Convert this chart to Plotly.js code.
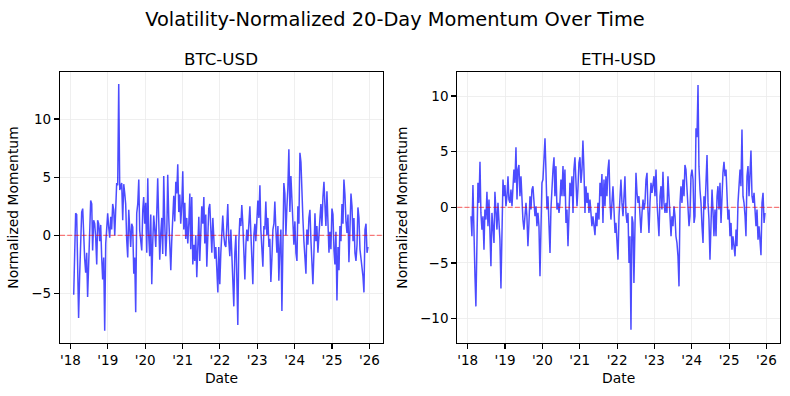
<!DOCTYPE html>
<html>
<head>
<meta charset="utf-8">
<script src="https://cdn.plot.ly/plotly-3.0.1.min.js"></script>
<style>html,body{margin:0;padding:0;background:#fff;}#chart{width:790px;height:396px;}</style>
</head>
<body>
<div id="chart"></div>
<script>
// Sampling of the series (one reading per ~9.8 days)
const startDate = '2018-02-02';
const stepDays = 9.785;

const btcMomentum = [
-5.1,-1.0,1.9,1.8,-2.7,-7.1,-3.5,0.8,2.0,2.3,-0.5,-2.0,-3.2,-1.5,-5.3,-2.0,0.8,3.0,2.7,-1.3,
1.3,1.0,-0.2,-2.5,1.3,1.0,-0.5,0.9,-1.8,-3.8,-1.9,-8.2,-0.7,1.0,1.9,0.7,-0.2,1.6,0.5,2.7,
2.2,0.0,1.6,4.5,4.3,13.0,3.9,4.2,4.5,1.3,4.4,3.6,2.7,-0.4,-1.9,2.2,0.7,-1.0,1.0,0.7,
-3.3,-1.9,-6.6,1.9,2.7,4.8,0.4,-0.7,-1.3,2.2,3.3,1.0,
2.8,-1.5,4.9,0.0,-1.8,1.8,-4.2,-0.5,1.7,0.5,-1.0,2.0,4.9,1.3,-2.1,0.2,1.5,-1.6,5.1,1.0,
-1.8,0.3,5.2,1.5,-1.2,-3.0,-0.5,2.0,3.4,1.2,4.6,3.6,6.1,2.0,3.5,1.0,2.5,5.5,0.5,2.8,
-0.3,1.5,-0.7,1.0,3.6,-1.2,3.3,-2.5,-0.8,-2.2,0.0,-3.6,-0.8,1.6,-2.2,0.5,2.5,1.0,3.3,-0.7,
1.8,-2.7,0.5,2.3,2.7,0.0,-1.5,1.5,-0.5,-2.0,-1.0,-3.5,-4.9,-1.0,-4.2,-1.5,0.3,1.7,0.0,-0.8,
-1.0,1.5,2.7,-0.5,-1.8,0.5,-2.5,-4.8,-6.1,-1.5,0.0,-3.5,-7.7,-0.5,1.5,0.8,2.6,1.0,-1.5,-3.8,
-0.8,0.5,-0.5,1.0,2.5,0.3,-1.5,-4.2,0.0,1.0,-0.5,1.2,3.0,1.5,4.3,0.5,-1.5,-2.7,0.8,0.5,
2.9,0.0,1.5,-1.0,-0.3,-4.0,-2.0,0.5,1.0,2.9,0.5,-1.5,0.8,-3.9,-1.0,0.5,-6.5,2.0,4.5,3.6,
0.0,2.5,4.0,7.4,2.0,5.1,2.8,0.5,-0.8,1.2,-1.5,-2.2,2.5,1.0,7.1,6.3,3.4,1.5,
-0.5,-2.5,-3.3,0.5,-0.8,1.5,2.2,-0.5,-2.0,-4.2,-1.5,1.9,-0.5,0.8,-1.5,0.5,1.5,2.7,0.8,3.3,
4.6,2.5,0.8,3.8,-0.3,-1.5,0.3,-1.2,2.3,1.8,-1.3,-2.5,0.3,-5.6,-1.0,-3.0,0.8,-0.5,2.7,1.0,
4.8,3.5,1.2,0.2,1.8,-2.3,0.5,3.6,2.5,-0.5,1.5,-1.5,-2.2,-0.8,2.4,1.5,-1.2,-2.0,-2.8,-3.5,
-4.9,0.5,1.0,-1.5,-1.0
];

const ethMomentum = [
-0.8,-2.6,2.0,-3.5,-6.2,-8.9,-2.0,2.2,0.4,4.1,-0.5,-2.0,-0.8,-3.8,-0.2,-1.1,1.4,-1.7,0.7,-2.6,
-5.3,-0.5,-2.0,-3.2,1.4,-0.2,-2.0,0.4,-1.7,-2.9,-7.3,-1.4,2.5,1.0,2.0,0.1,1.0,2.8,0.7,0.4,
1.6,0.1,2.2,3.4,2.2,5.4,0.7,3.4,3.8,1.0,2.8,0.1,-1.1,-2.0,-0.2,0.4,-0.8,-3.5,-1.4,1.0,
-0.2,1.6,1.9,0.4,-0.8,0.1,-1.7,-0.5,-1.7,-6.2,-2.0,2.2,
2.5,4.9,6.2,3.4,-0.2,1.0,-2.0,-4.1,-0.2,2.2,3.4,4.5,1.0,3.7,-0.2,0.4,-0.5,0.4,2.5,1.0,
3.7,1.0,3.4,-1.4,-0.2,-3.5,-1.4,2.2,1.0,2.8,-0.5,3.4,4.5,2.2,0.1,1.6,4.0,4.5,2.2,3.4,
6.0,3.4,-0.5,1.9,0.4,1.3,-0.5,0.7,-0.5,-1.7,-0.8,-2.0,-2.5,-0.5,-1.7,0.4,-1.1,2.2,1.0,3.0,
-1.4,2.5,0.1,2.8,1.0,3.4,4.3,0.4,-1.1,0.4,1.9,-0.2,-2.3,-1.4,-3.5,-4.7,-0.8,1.6,
2.5,0.4,-0.8,1.0,2.8,-0.5,-1.4,-0.5,-5.0,-2.6,-11.0,-0.8,-1.4,-6.8,1.0,3.1,1.3,0.4,1.0,-0.8,
-2.3,-0.5,0.7,-0.2,0.4,2.5,3.1,-0.2,-2.3,0.4,2.2,1.3,2.2,2.8,1.0,3.4,0.4,-0.8,-2.6,1.0,
1.9,-0.2,3.2,0.4,-0.5,0.4,-0.5,2.8,1.0,-0.5,-2.6,-0.8,-1.7,0.1,-0.8,-2.6,-3.2,-4.4,-7.1,0.4,
1.9,0.4,2.5,1.0,3.8,3.4,1.9,0.1,-1.7,-0.8,2.8,3.4,2.5,-1.4,-0.8,7.1,6.3,11.0,3.7,1.6,
0.4,-1.7,-3.2,1.0,-0.2,2.2,4.7,0.4,-1.1,-4.7,0.1,1.6,-0.2,-2.6,-0.2,-2.6,1.0,1.9,-0.2,2.2,
-1.4,1.6,3.1,4.1,2.8,3.4,0.4,-1.1,-0.2,-2.6,-1.4,-3.8,-2.6,-3.8,-4.4,-2.0,-3.5,0.4,1.6,3.4,
1.9,7.0,1.0,0.4,-0.8,-2.6,2.8,3.7,1.0,4.0,5.1,1.0,0.4,1.3,0.1,-1.7,-0.2,-2.9,-1.7,-3.2,
-4.3,0.4,1.3,-1.4,-0.5
];

const tickDates = ['2018-01-01','2019-01-01','2020-01-01','2021-01-01','2022-01-01','2023-01-01','2024-01-01','2025-01-01','2026-01-01'];
const tickLabels = ["'18","'19","'20","'21","'22","'23","'24","'25","'26"];
const panelTitles = ['BTC-USD', 'ETH-USD'];

function makeDates(n) {
  const t0 = Date.parse(startDate + 'T00:00:00Z');
  const out = [];
  for (let i = 0; i < n; i++) {
    out.push(new Date(t0 + i * stepDays * 86400000).toISOString().slice(0, 10));
  }
  return out;
}

const font = 'DejaVu Sans, Verdana, sans-serif';
const lineStyle = {color: 'rgba(0,0,255,0.7)', width: 1.5};

const traces = [
  {x: makeDates(btcMomentum.length), y: btcMomentum, type: 'scatter', mode: 'lines', line: lineStyle, xaxis: 'x', yaxis: 'y', hoverinfo: 'skip'},
  {x: makeDates(ethMomentum.length), y: ethMomentum, type: 'scatter', mode: 'lines', line: lineStyle, xaxis: 'x2', yaxis: 'y2', hoverinfo: 'skip'}
];

const xRange = ['2017-09-21', '2026-05-14'];
function xAxis(domain) {
  return {
    domain: domain, type: 'date', range: xRange,
    tickvals: tickDates, ticktext: tickLabels,
    showline: true, mirror: true, linecolor: '#000', linewidth: 1.1,
    ticks: 'outside', ticklen: 5, tickwidth: 1.1, tickcolor: '#000',
    showgrid: true, gridcolor: '#ebebeb', gridwidth: 0.8, zeroline: false,
    tickfont: {family: font, size: 13.5, color: '#000'},
    title: {text: 'Date', font: {family: font, size: 13.9, color: '#000'}, standoff: 6},
    automargin: false
  };
}
function yAxis(range, anchor) {
  return {
    domain: [0, 1], range: range, anchor: anchor, dtick: 5,
    showline: true, mirror: true, linecolor: '#000', linewidth: 1.1,
    ticks: 'outside', ticklen: 5, tickwidth: 1.1, tickcolor: '#000',
    showgrid: true, gridcolor: '#ebebeb', gridwidth: 0.8, zeroline: false,
    tickfont: {family: font, size: 13.5, color: '#000'},
    title: {text: 'Normalized Momentum', font: {family: font, size: 13.9, color: '#000'}, standoff: 9},
    automargin: false
  };
}

const zeroLine = {color: 'rgba(255,0,0,0.5)', width: 1.1, dash: '5px,2.2px'};

const layout = {
  width: 790, height: 396,
  margin: {l: 60, r: 10, t: 72, b: 53, pad: 0},
  paper_bgcolor: '#fff', plot_bgcolor: '#fff',
  showlegend: false,
  title: {text: 'Volatility-Normalized 20-Day Momentum Over Time', font: {family: font, size: 19.4, color: '#000'},
          x: 0.5, xref: 'container', xanchor: 'center', y: 1 - 19/396, yref: 'container', yanchor: 'middle'},
  xaxis: Object.assign(xAxis([0, 0.4486]), {anchor: 'y'}),
  yaxis: yAxis([-9.25, 14.04], 'x'),
  xaxis2: Object.assign(xAxis([0.5518, 1]), {anchor: 'y2'}),
  yaxis2: yAxis([-12.19, 12.16], 'x2'),
  shapes: [
    {type: 'line', xref: 'x domain', yref: 'y', x0: 0, x1: 1, y0: 0, y1: 0, line: zeroLine, layer: 'above'},
    {type: 'line', xref: 'x2 domain', yref: 'y2', x0: 0, x1: 1, y0: 0, y1: 0, line: zeroLine, layer: 'above'}
  ],
  annotations: [
    {text: panelTitles[0], xref: 'x domain', yref: 'paper', x: 0.5, y: 1 + 13/271, xanchor: 'center', yanchor: 'middle', showarrow: false, font: {family: font, size: 16.7, color: '#000'}},
    {text: panelTitles[1], xref: 'x2 domain', yref: 'paper', x: 0.5, y: 1 + 13/271, xanchor: 'center', yanchor: 'middle', showarrow: false, font: {family: font, size: 16.7, color: '#000'}}
  ]
};

Plotly.newPlot('chart', traces, layout, {staticPlot: true, displayModeBar: false});
</script>
</body>
</html>
